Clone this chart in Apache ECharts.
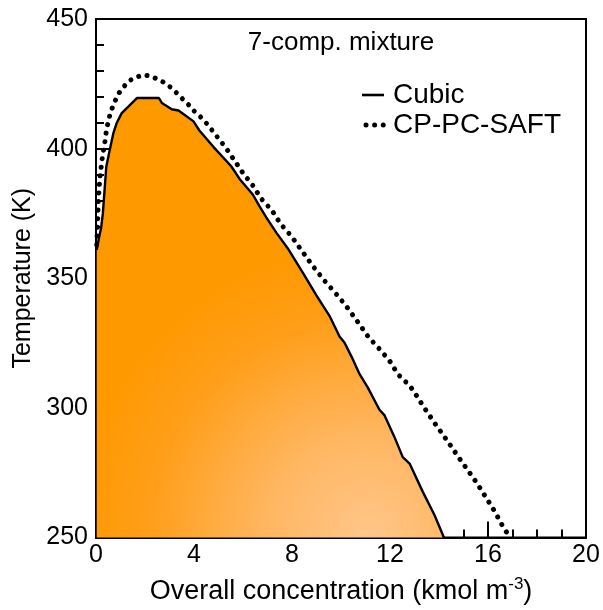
<!DOCTYPE html>
<html>
<head>
<meta charset="utf-8">
<script src="https://cdn.jsdelivr.net/npm/echarts@6/dist/echarts.min.js"></script>
<style>
  html, body { margin: 0; padding: 0; background: #fff; }
  #chart { width: 603px; height: 610px; }
</style>
</head>
<body>
<div id="chart"></div>
<script>
// Phase envelope of a 7-component mixture: temperature vs overall concentration
const titleText = '7-comp. mixture';
const seriesNames = ['Cubic', 'CP-PC-SAFT'];

// Cubic equation of state envelope (kmol m^-3, K)
const cubicConc = [0.03, 0.12, 0.21, 0.28, 0.42, 0.58, 0.71, 0.85, 1.05, 1.33, 1.67, 2.57, 2.69, 3.09, 3.37,
  3.98, 4.22, 4.80, 5.52, 5.86, 6.40, 6.67, 6.95, 7.36, 7.83, 8.44, 8.99, 9.53, 9.94, 10.14,
  10.48, 10.76, 11.09, 11.57, 11.78, 12.18, 12.52, 12.80, 13.34, 13.82, 14.20];
const cubicTemp = [361.0, 365.5, 369.5, 375.0, 393.0, 400.3, 406.0, 410.0, 413.7, 416.3, 419.5, 419.5, 417.6, 415.2, 414.7,
  410.5, 407.0, 400.6, 393.2, 388.3, 382.3, 377.8, 373.5, 367.6, 361.5, 352.2, 343.5, 335.5, 327.5, 325.2,
  318.8, 313.0, 307.9, 299.3, 297.1, 288.8, 281.0, 278.5, 267.6, 258.6, 250.0];

// CP-PC-SAFT envelope (kmol m^-3, K)
const saftConc = [0.03, 0.07, 0.09, 0.15, 0.25, 0.37, 0.44, 0.52, 0.58, 0.76, 0.99, 1.23, 1.46, 1.71, 1.97,
  2.24, 2.52, 2.82, 3.09, 3.30, 3.54, 3.78, 3.98, 4.25, 4.48, 4.66, 4.95, 5.30, 5.99, 6.40,
  6.74, 7.18, 7.53, 7.97, 8.31, 8.85, 9.33, 9.80, 10.21, 10.62, 11.13, 11.57, 11.98, 12.32, 12.80,
  13.00, 13.34, 13.75, 14.09, 14.47, 14.84, 15.18, 15.56, 15.90, 16.27, 16.58, 16.90];
const saftTemp = [363.0, 372.7, 379.0, 388.0, 396.0, 403.0, 408.0, 411.0, 413.7, 418.0, 422.3, 424.9, 426.8, 427.8, 428.5,
  427.8, 426.8, 425.3, 423.3, 421.4, 419.1, 416.9, 414.7, 412.4, 410.1, 408.0, 404.5, 400.3, 390.7, 385.8,
  380.7, 376.2, 371.0, 366.3, 361.8, 354.7, 349.0, 344.0, 339.3, 334.0, 327.2, 322.7, 318.2, 313.0, 308.6,
  306.0, 300.9, 295.1, 290.6, 285.5, 280.4, 275.9, 270.8, 265.7, 260.1, 254.7, 250.0];

const pairs = (xs, ys) => xs.map((x, i) => [x, ys[i]]);
const FONT = '"Liberation Sans", Arial, Helvetica, sans-serif';
const INK = '#000';

// Line styles shared by the series and their legend keys
const solidWidth = 2.4;
const dotDash = [0.01, 8.6];
const dotWidth = 5;

const chart = echarts.init(document.getElementById('chart'), null, { renderer: 'canvas' });
const tickStyle = { color: INK, width: 2 };

// Hand-built legend: a key line and a label per series
const legendX = 362, legendY = 95, legendStep = 30, keyLen = 22;
const legendGraphics = [];
seriesNames.forEach((name, i) => {
  const y = legendY + i * legendStep;
  legendGraphics.push({
    type: 'polyline',
    shape: { points: i === 0 ? [[legendX, y], [legendX + keyLen, y]] : [[legendX + 4, y], [legendX + keyLen + 2, y]] },
    style: i === 0
      ? { stroke: INK, lineWidth: 2.6 }
      : { stroke: INK, lineWidth: dotWidth, lineDash: dotDash, lineCap: 'round' },
    z: 10
  });
  legendGraphics.push({
    type: 'text',
    x: legendX + 31, y: y,
    style: { text: name, fill: INK, align: 'left', verticalAlign: 'middle', font: '28px ' + FONT },
    z: 10
  });
});

chart.setOption({
  animation: false,
  backgroundColor: '#fff',
  grid: {
    left: 96, right: 17, top: 19, bottom: 72,
    show: true, borderColor: INK, borderWidth: 2, backgroundColor: 'transparent'
  },
  graphic: [{
    type: 'text',
    x: 341, y: 43,
    style: {
      text: titleText, fill: INK, align: 'center', verticalAlign: 'middle',
      font: '26px ' + FONT
    },
    z: 10
  }].concat(legendGraphics),
  xAxis: {
    type: 'value', min: 0, max: 20, interval: 4,
    name: '{t|Overall concentration (kmol m}{s|-3}{t|)}',
    nameLocation: 'middle', nameGap: 38,
    nameTextStyle: {
      rich: {
        t: { fontFamily: FONT, fontSize: 27, color: INK, lineHeight: 32 },
        s: { fontFamily: FONT, fontSize: 17, color: INK, verticalAlign: 'top', lineHeight: 32 }
      }
    },
    axisLine: { show: true, onZero: false, lineStyle: { color: INK, width: 2 } },
    axisTick: { show: true, inside: true, length: 16, lineStyle: tickStyle },
    minorTick: { show: true, splitNumber: 4, length: 8, lineStyle: tickStyle },
    axisLabel: { margin: 5, fontFamily: FONT, fontSize: 25, color: INK },
    splitLine: { show: false }
  },
  yAxis: {
    type: 'value', min: 250, max: 450, interval: 50,
    name: 'Temperature (K)',
    nameLocation: 'middle', nameGap: 60,
    nameTextStyle: { fontFamily: FONT, fontSize: 25, color: INK },
    axisLine: { show: true, onZero: false, lineStyle: { color: INK, width: 2 } },
    axisTick: { show: true, inside: true, length: 16, lineStyle: tickStyle },
    minorTick: { show: true, splitNumber: 5, length: 8, lineStyle: tickStyle },
    axisLabel: { margin: 8, fontFamily: FONT, fontSize: 25, color: INK },
    splitLine: { show: false }
  },
  series: [
    {
      name: seriesNames[0],
      type: 'line',
      data: pairs(cubicConc, cubicTemp),
      symbol: 'none',
      lineStyle: { color: INK, width: solidWidth },
      areaStyle: {
        origin: 'start',
        opacity: 1,
        color: new echarts.graphic.RadialGradient(0.78, 1.0, 0.85, [
          { offset: 0, color: '#FFC68A' },
          { offset: 0.35, color: '#FFB660' },
          { offset: 0.75, color: '#FF9E18' },
          { offset: 1, color: '#FF9900' }
        ])
      },
      z: 2
    },
    {
      name: seriesNames[1],
      type: 'line',
      data: pairs(saftConc, saftTemp),
      symbol: 'none',
      lineStyle: { color: INK, width: dotWidth, type: dotDash, cap: 'round' },
      z: 3
    }
  ]
});
</script>
</body>
</html>
